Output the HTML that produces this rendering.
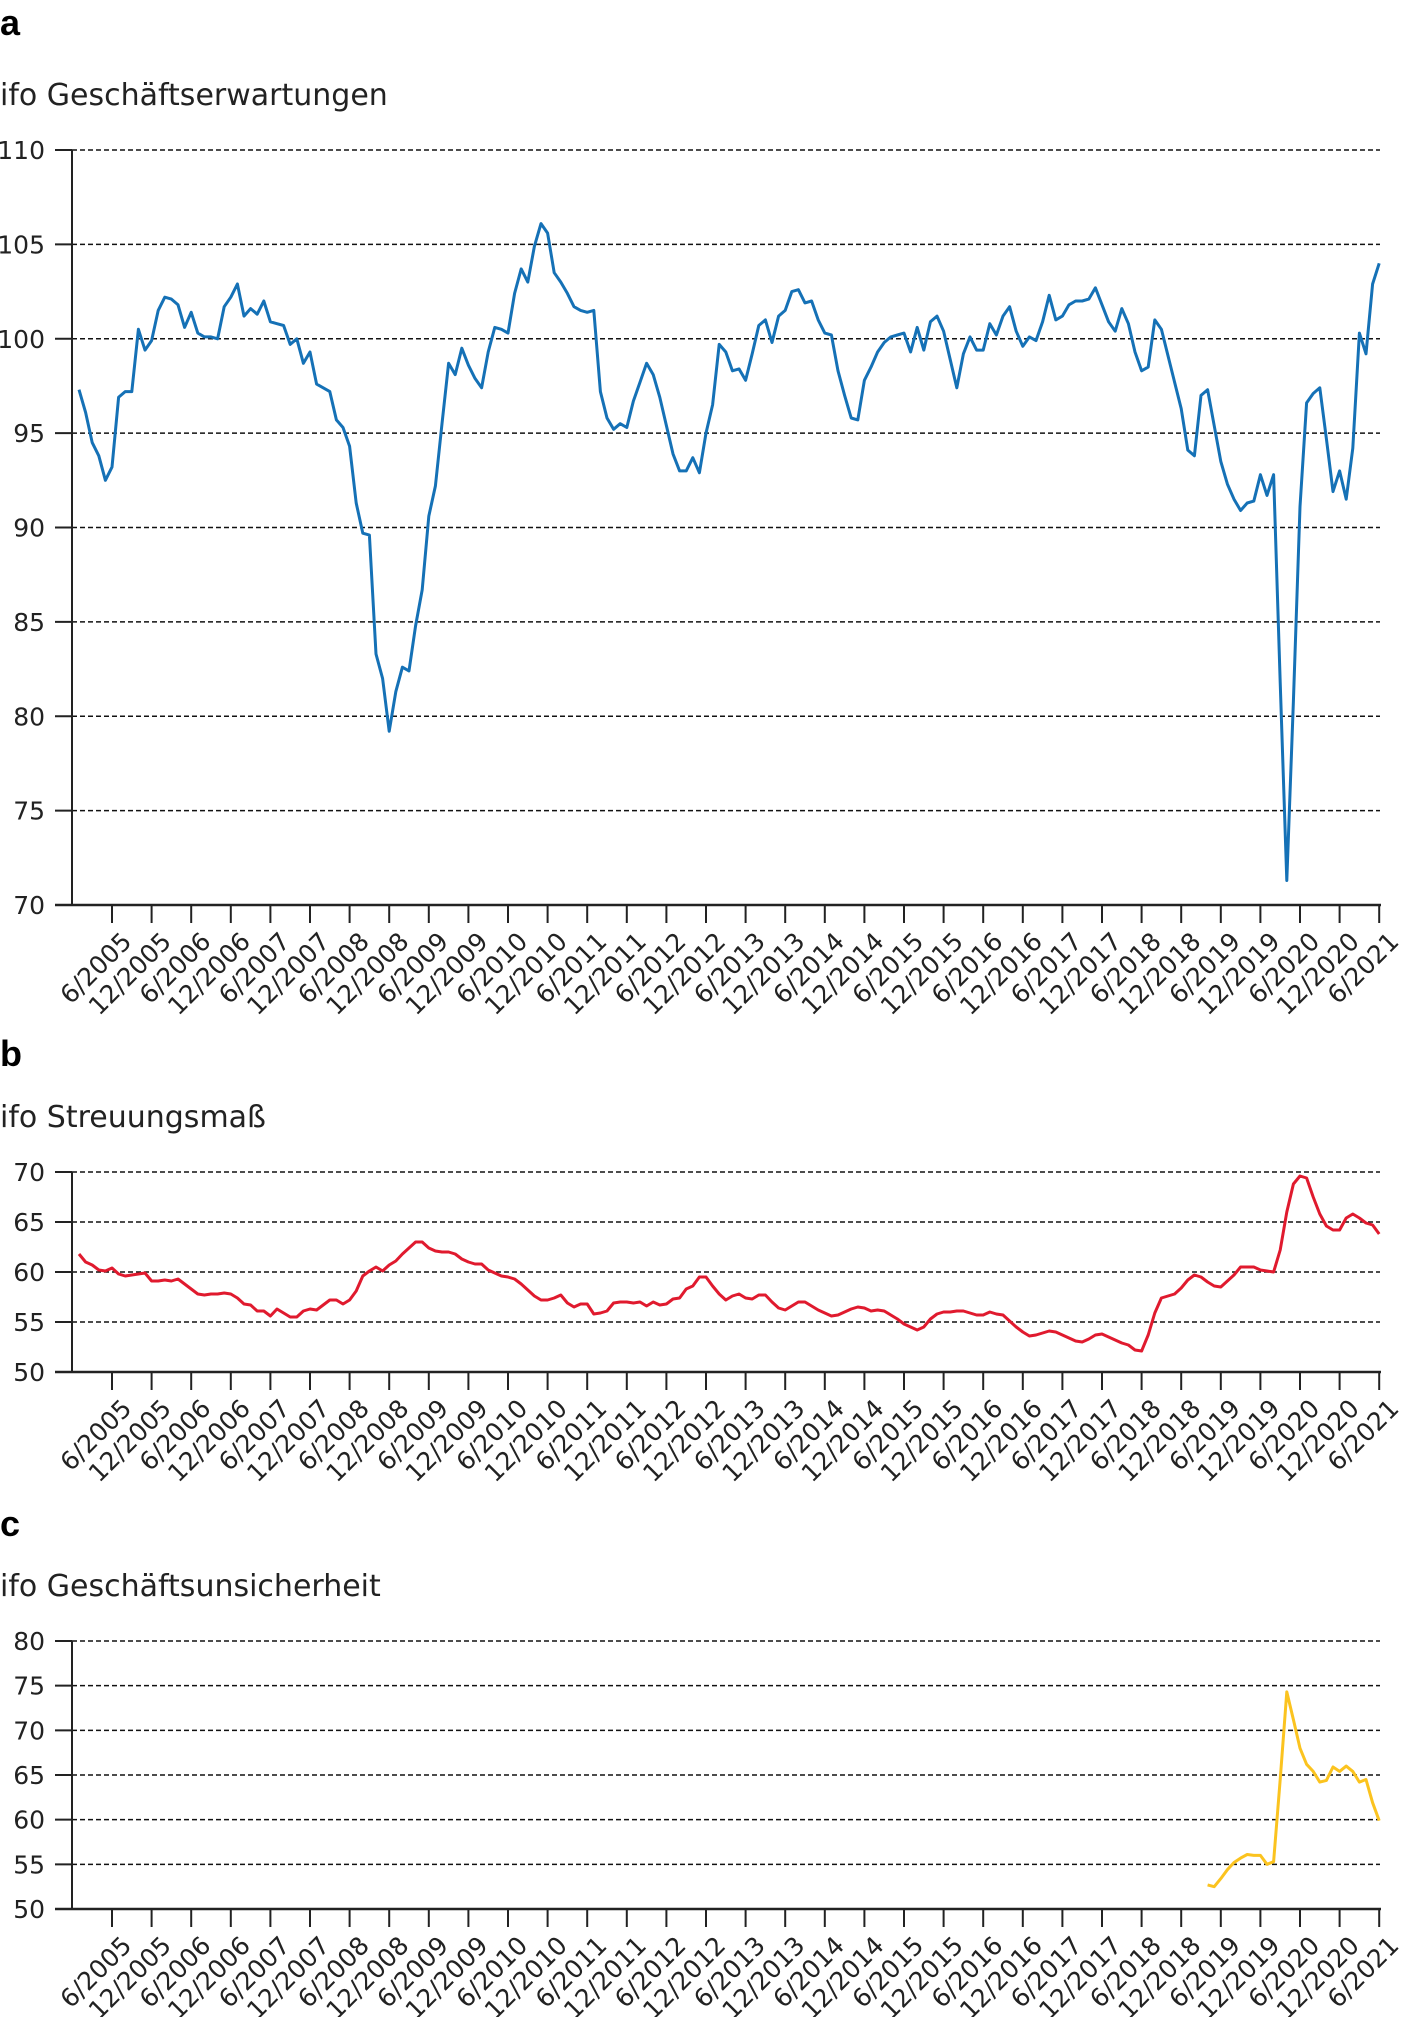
<!DOCTYPE html>
<html><head><meta charset="utf-8"><style>
html,body{margin:0;padding:0;background:#fff;}
svg{display:block;}
text{font-family:"DejaVu Sans","Liberation Sans",sans-serif;fill:#222;}
.lbl{font-family:"Liberation Sans",sans-serif;font-weight:bold;fill:#000;}
</style></head><body>
<svg id="chart" width="1406" height="2017" viewBox="0 0 1406 2017" xmlns="http://www.w3.org/2000/svg">
<g id="root"></g>
</svg>
<script>
// months index 0 = 1/2005 ... 197 = 6/2021
const expectations = [97.3,96.1,94.5,93.8,92.5,93.2,96.9,97.2,97.2,100.5,99.4,99.9,101.5,102.2,102.1,101.8,100.6,101.4,100.3,100.1,100.1,100.0,101.7,102.2,102.9,101.2,101.6,101.3,102.0,100.9,100.8,100.7,99.7,100.0,98.7,99.3,97.6,97.4,97.2,95.7,95.3,94.3,91.3,89.7,89.6,83.3,82.0,79.2,81.3,82.6,82.4,84.8,86.7,90.6,92.2,95.5,98.7,98.1,99.5,98.6,97.9,97.4,99.3,100.6,100.5,100.3,102.4,103.7,103.0,104.9,106.1,105.6,103.5,103.0,102.4,101.7,101.5,101.4,101.5,97.2,95.8,95.2,95.5,95.3,96.7,97.7,98.7,98.1,96.9,95.4,93.9,93.0,93.0,93.7,92.9,95.0,96.5,99.7,99.3,98.3,98.4,97.8,99.2,100.7,101.0,99.8,101.2,101.5,102.5,102.6,101.9,102.0,101.0,100.3,100.2,98.3,97.0,95.8,95.7,97.8,98.5,99.3,99.8,100.1,100.2,100.3,99.3,100.6,99.4,100.9,101.2,100.4,98.9,97.4,99.2,100.1,99.4,99.4,100.8,100.2,101.2,101.7,100.4,99.6,100.1,99.9,100.9,102.3,101.0,101.2,101.8,102.0,102.0,102.1,102.7,101.8,100.9,100.4,101.6,100.8,99.3,98.3,98.5,101.0,100.5,99.1,97.7,96.3,94.1,93.8,97.0,97.3,95.4,93.5,92.3,91.5,90.9,91.3,91.4,92.8,91.7,92.8,81.8,71.3,80.8,91.1,96.6,97.1,97.4,94.7,91.9,93.0,91.5,94.2,100.3,99.2,102.9,104.0];
const dispersion = [61.8,61.0,60.7,60.2,60.1,60.4,59.8,59.6,59.7,59.8,59.9,59.1,59.1,59.2,59.1,59.3,58.8,58.3,57.8,57.7,57.8,57.8,57.9,57.8,57.4,56.8,56.7,56.1,56.1,55.6,56.3,55.9,55.5,55.5,56.1,56.3,56.2,56.7,57.2,57.2,56.8,57.2,58.1,59.6,60.1,60.5,60.1,60.7,61.1,61.8,62.4,63.0,63.0,62.4,62.1,62.0,62.0,61.8,61.3,61.0,60.8,60.8,60.2,59.9,59.6,59.5,59.3,58.8,58.2,57.6,57.2,57.2,57.4,57.7,56.9,56.5,56.8,56.8,55.8,55.9,56.1,56.9,57.0,57.0,56.9,57.0,56.6,57.0,56.7,56.8,57.3,57.4,58.3,58.6,59.5,59.5,58.6,57.8,57.2,57.6,57.8,57.4,57.3,57.7,57.7,57.0,56.4,56.2,56.6,57.0,57.0,56.6,56.2,55.9,55.6,55.7,56.0,56.3,56.5,56.4,56.1,56.2,56.1,55.7,55.3,54.8,54.5,54.2,54.5,55.3,55.8,56.0,56.0,56.1,56.1,55.9,55.7,55.7,56.0,55.8,55.7,55.1,54.5,54.0,53.6,53.7,53.9,54.1,54.0,53.7,53.4,53.1,53.0,53.3,53.7,53.8,53.5,53.2,52.9,52.7,52.2,52.1,53.7,55.9,57.4,57.6,57.8,58.4,59.2,59.7,59.5,59.0,58.6,58.5,59.1,59.7,60.5,60.5,60.5,60.2,60.1,60.0,62.2,66.0,68.8,69.6,69.4,67.5,65.8,64.6,64.2,64.2,65.4,65.8,65.4,64.9,64.7,63.8];
const uncertaintyStart = 171;
const uncertainty = [52.7,52.5,53.4,54.4,55.2,55.7,56.1,56.0,56.0,55.0,55.3,64.5,74.3,71.2,68.0,66.2,65.4,64.2,64.4,65.9,65.4,66.0,65.4,64.2,64.5,61.9,59.9];
const ticksA = [70,75,80,85,90,95,100,105,110];
const ticksB = [50,55,60,65,70];
const ticksC = [50,55,60,65,70,75,80];
const xTickLabels = [];
for (let y = 2005; y <= 2021; y++) { xTickLabels.push('6/' + y); if (y < 2021) xTickLabels.push('12/' + y); }

const NS = 'http://www.w3.org/2000/svg';
const root = document.getElementById('root');
function mk(tag, attrs, parent) {
  const e = document.createElementNS(NS, tag);
  for (const k in attrs) e.setAttribute(k, attrs[k]);
  (parent || root).appendChild(e);
  return e;
}
function xScale(m) { return 79 + 6.6 * m; }

function panel(cfg) {
  const g = mk('g', {});
  
  
  const y = v => cfg.yBottom - (v - cfg.min) / (cfg.max - cfg.min) * (cfg.yBottom - cfg.yTop);
  const L = mk('text', {x: 0, y: cfg.letterY, 'font-size': 36, class: 'lbl'}, g);
  L.textContent = cfg.letter;
  
  
  const T = mk('text', {x: 0, y: cfg.titleY, 'font-size': 30}, g);
  T.textContent = cfg.title;
  
  
  cfg.ticks.forEach(v => {
    const yy = y(v);
    if (v !== cfg.min) {
      const gl = mk('line', {x1: 72, x2: 1380, y1: yy, y2: yy, stroke: '#111', 'stroke-width': 1.5, 'stroke-dasharray': '5,3'}, g);
      
      
    }
    mk('line', {x1: 55, x2: 72, y1: yy, y2: yy, stroke: '#222', 'stroke-width': 2}, g);
    const t = mk('text', {x: 45, y: yy + 9, 'font-size': 25, 'text-anchor': 'end'}, g);
    t.textContent = v;
    
    
  });
  const ya = mk('line', {x1: 72, x2: 72, y1: cfg.yTop, y2: cfg.yBottom, stroke: '#222', 'stroke-width': 2}, g);
  
  
  const xa = mk('line', {x1: 55, x2: 1381, y1: cfg.yBottom, y2: cfg.yBottom, stroke: '#222', 'stroke-width': 2.5}, g);
  
  
  xTickLabels.forEach((lab, i) => {
    const xx = xScale(5 + 6 * i);
    mk('line', {x1: xx, x2: xx, y1: cfg.yBottom, y2: cfg.yBottom + 18, stroke: '#222', 'stroke-width': 2}, g);
    const tx = xx + 21, ty = cfg.yBottom + 38;
    const t = mk('text', {x: tx, y: ty, 'font-size': 25, 'text-anchor': 'end', transform: 'rotate(-45 ' + tx + ' ' + ty + ')'}, g);
    t.textContent = lab;
    
    
  });
  const pts = cfg.data.map((v, i) => xScale(cfg.start + i).toFixed(1) + ',' + y(v).toFixed(1)).join(' ');
  const pl = mk('polyline', {points: pts, fill: 'none', stroke: cfg.color, 'stroke-width': 3, 'stroke-linejoin': 'round'}, g);
  
  
}

panel({name: 'panel-a', letter: 'a', letterY: 35, title: 'ifo Geschäftserwartungen', titleY: 105, yTop: 150, yBottom: 905, min: 70, max: 110, ticks: ticksA, data: expectations, start: 0, color: '#1571b6', series: 'expectations-line'});
panel({name: 'panel-b', letter: 'b', letterY: 1066, title: 'ifo Streuungsmaß', titleY: 1127, yTop: 1172, yBottom: 1372, min: 50, max: 70, ticks: ticksB, data: dispersion, start: 0, color: '#e01a2e', series: 'dispersion-line'});
panel({name: 'panel-c', letter: 'c', letterY: 1536, title: 'ifo Geschäftsunsicherheit', titleY: 1596, yTop: 1641, yBottom: 1909, min: 50, max: 80, ticks: ticksC, data: uncertainty, start: uncertaintyStart, color: '#fbc31f', series: 'uncertainty-line'});
</script>
</body></html>
